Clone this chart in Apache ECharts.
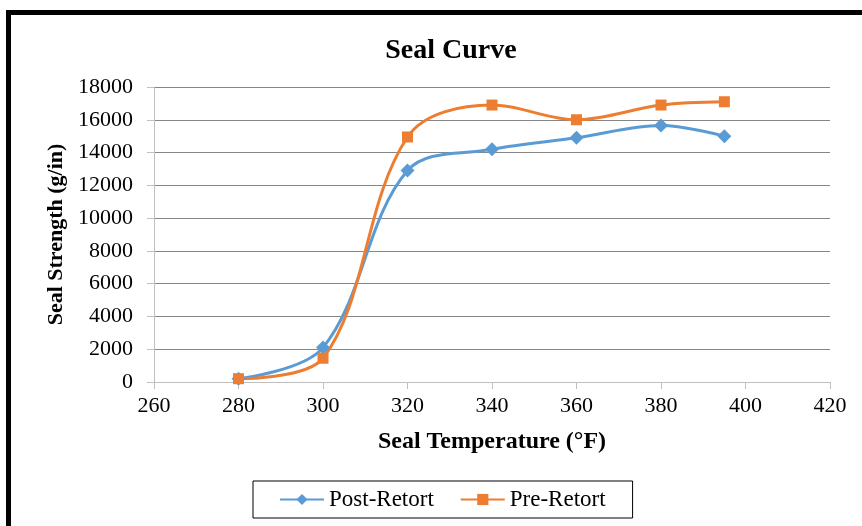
<!DOCTYPE html>
<html>
<head>
<meta charset="utf-8">
<script src="https://cdn.jsdelivr.net/npm/echarts@6/dist/echarts.min.js"></script>
<style>html,body{margin:0;padding:0;background:#fff;}#c{width:862px;height:526px;}</style>
</head>
<body>
<div id="c"></div>
<script>
var temperatures = [280, 300, 320, 340, 360, 380, 395];
var postRetort = [200, 2100, 12900, 14200, 14900, 15650, 15000];
var preRetort = [200, 1450, 14950, 16900, 16000, 16900, 17100];
var seriesNames = ['Post-Retort', 'Pre-Retort'];

function pairs(xs, ys) { return xs.map(function (x, i) { return [x, ys[i]]; }); }

var font = '"Liberation Serif", "Times New Roman", serif';
var chart = echarts.init(document.getElementById('c'));
chart.setOption({
  animation: false,
  backgroundColor: '#fff',
  title: {
    text: 'Seal Curve', left: 446, top: 32, textAlign: 'center',
    textStyle: { fontFamily: font, fontSize: 28, fontWeight: 'bold', color: '#000' }
  },
  graphic: [{
    type: 'rect', silent: true,
    shape: { x: 8.5, y: 12.5, width: 1000, height: 1000 },
    style: { fill: 'none', stroke: '#000', lineWidth: 5 }
  }],
  legend: {
    data: seriesNames, left: 253, top: 481,
    borderColor: '#000', borderWidth: 1,
    padding: [7, 27, 7, 26], itemGap: 26, itemWidth: 44, itemHeight: 14,
    textStyle: { fontFamily: font, fontSize: 23, color: '#000' }
  },
  grid: { left: 154, right: 32, top: 87, bottom: 144 },
  xAxis: {
    type: 'value', min: 260, max: 420, interval: 20,
    name: 'Seal Temperature (°F)', nameLocation: 'middle', nameGap: 48,
    nameTextStyle: { fontFamily: font, fontSize: 24, fontWeight: 'bold', color: '#000' },
    axisLine: { show: true, lineStyle: { color: '#bfbfbf', width: 1 } },
    axisTick: { show: true, length: 7, lineStyle: { color: '#bfbfbf' } },
    axisLabel: { fontFamily: font, fontSize: 22, color: '#000', margin: 13 },
    splitLine: { show: false }
  },
  yAxis: {
    type: 'value', min: 0, max: 18000, interval: 2000,
    name: 'Seal Strength (g/in)', nameLocation: 'middle', nameGap: 87, nameRotate: 90,
    nameTextStyle: { fontFamily: font, fontSize: 22, fontWeight: 'bold', color: '#000' },
    axisLine: { show: true, lineStyle: { color: '#bfbfbf', width: 1 } },
    axisTick: { show: true, length: 7, lineStyle: { color: '#bfbfbf' } },
    axisLabel: { fontFamily: font, fontSize: 22, color: '#000', margin: 21, formatter: function (v) { return String(v); } },
    splitLine: { show: true, lineStyle: { color: '#868686', width: 1 } }
  },
  series: [
    {
      name: seriesNames[0], type: 'line', smooth: 0.35,
      data: pairs(temperatures, postRetort),
      symbol: 'diamond', symbolSize: 14,
      lineStyle: { color: '#5b9bd5', width: 3 },
      itemStyle: { color: '#5b9bd5' }
    },
    {
      name: seriesNames[1], type: 'line', smooth: 0.35,
      data: pairs(temperatures, preRetort),
      symbol: 'rect', symbolSize: 11,
      lineStyle: { color: '#ed7d31', width: 3 },
      itemStyle: { color: '#ed7d31' }
    }
  ]
});
</script>
</body>
</html>
